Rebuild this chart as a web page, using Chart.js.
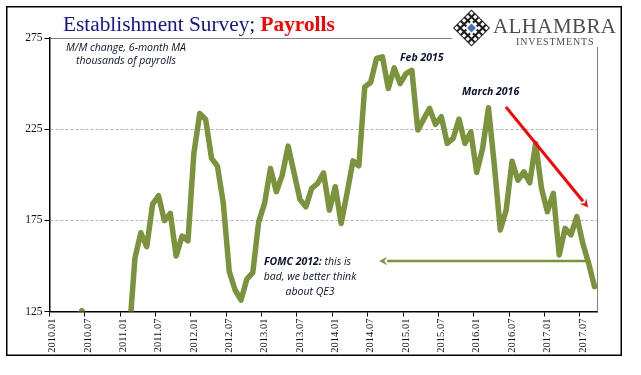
<!DOCTYPE html>
<html>
<head>
<meta charset="utf-8">
<title>Establishment Survey; Payrolls</title>
<script src="https://cdn.jsdelivr.net/npm/chart.js@4"></script>
<style>
  html, body { margin: 0; padding: 0; background: #fff; }
  canvas { display: block; }
</style>
</head>
<body>
<canvas id="payrollsChart" width="641" height="375"></canvas>
<script>
// --- data ---
const months = [
    '2010.01','2010.02','2010.03','2010.04','2010.05','2010.06','2010.07','2010.08','2010.09','2010.10','2010.11','2010.12',
    '2011.01','2011.02','2011.03','2011.04','2011.05','2011.06','2011.07','2011.08','2011.09','2011.10','2011.11','2011.12',
    '2012.01','2012.02','2012.03','2012.04','2012.05','2012.06','2012.07','2012.08','2012.09','2012.10','2012.11','2012.12',
    '2013.01','2013.02','2013.03','2013.04','2013.05','2013.06','2013.07','2013.08','2013.09','2013.10','2013.11','2013.12',
    '2014.01','2014.02','2014.03','2014.04','2014.05','2014.06','2014.07','2014.08','2014.09','2014.10','2014.11','2014.12',
    '2015.01','2015.02','2015.03','2015.04','2015.05','2015.06','2015.07','2015.08','2015.09','2015.10','2015.11','2015.12',
    '2016.01','2016.02','2016.03','2016.04','2016.05','2016.06','2016.07','2016.08','2016.09','2016.10','2016.11','2016.12',
    '2017.01','2017.02','2017.03','2017.04','2017.05','2017.06','2017.07','2017.08','2017.09'
];
// 2010 to early 2011 runs under the axis minimum, only the June 2010 bump shows
const payrolls = [
    100, 108, 112, 116, 120, 125.5, 118, 110, 105, 100, 95, 95,
    100, 111, 154.3, 168.2, 160.5, 183.9, 188.5, 174.8, 178.8, 155.4, 166.4, 163.8,
    211.7, 233.6, 230.3, 209, 204.7, 184.3, 147, 136.8, 131.3, 142.8, 146.3, 174.2,
    184.3, 203.5, 190.7, 199.8, 215.7, 201, 186.5, 182.4, 192.5, 195.2, 201, 180.6,
    193.4, 173.3, 190, 207.6, 204.9, 248.2, 250.6, 263.8, 264.7, 247.3, 258.6, 250,
    255.5, 257.3, 224.5, 230.5, 236.4, 227.6, 231.8, 217.2, 219.9, 230.5, 217.2, 223.5,
    201.3, 214.4, 236.7, 205, 169.7, 180.6, 207.4, 197, 201.6, 195.6, 217.2, 192.5,
    179.7, 189.8, 156, 170.6, 167, 177, 162.4, 151.4, 138.6
];
const yTicks = [125, 175, 225, 275];

const lineColor = '#7a933c';
const noteColor = '#0a1230';

// --- layout of the picture ---
const plotLeft = 49.5, plotTop = 38, plotRight = 597.5, plotBottom = 311.5;

function noteFont(weight) {
    return 'italic ' + weight + ' 10.5px "Open Sans"';
}

function drawText(ctx, text, x, y, font, color, align) {
    ctx.font = font;
    ctx.fillStyle = color;
    ctx.textAlign = align || 'left';
    ctx.textBaseline = 'alphabetic';
    ctx.fillText(text, x, y);
}

// arrow given in scale units (month index, thousands)
function drawArrow(chart, from, to, color, width) {
    const ctx = chart.ctx, xs = chart.scales.x, ys = chart.scales.y;
    const x1 = xs.getPixelForValue(from[0]), y1 = ys.getPixelForValue(from[1]);
    const x2 = xs.getPixelForValue(to[0]), y2 = ys.getPixelForValue(to[1]);
    const a = Math.atan2(y2 - y1, x2 - x1);
    const len = 8, wing = 4.2;
    const bx = x2 - len * Math.cos(a), by = y2 - len * Math.sin(a);
    ctx.save();
    ctx.strokeStyle = color;
    ctx.fillStyle = color;
    ctx.lineWidth = width;
    ctx.beginPath();
    ctx.moveTo(x1, y1);
    ctx.lineTo(bx, by);
    ctx.stroke();
    ctx.beginPath();
    ctx.moveTo(x2, y2);
    ctx.lineTo(bx - wing * Math.sin(a), by + wing * Math.cos(a));
    ctx.lineTo(x2 - 0.65 * len * Math.cos(a), y2 - 0.65 * len * Math.sin(a));
    ctx.lineTo(bx + wing * Math.sin(a), by - wing * Math.cos(a));
    ctx.closePath();
    ctx.fill();
    ctx.restore();
}

function drawLogo(ctx) {
    const cx = 471.5, cy = 28, r = 18.5;
    ctx.save();
    // hides the end of the title rule and the top of the right rule
    ctx.fillStyle = '#fff';
    ctx.fillRect(452, 8, 168, 39);

    ctx.translate(cx, cy);
    ctx.rotate(Math.PI / 4);
    const side = r * Math.SQRT2;
    ctx.fillStyle = '#1c1c1c';
    ctx.fillRect(-side / 2, -side / 2, side, side);
    // lattice holes
    ctx.fillStyle = '#fff';
    const n = 5, cell = side / n;
    for (let i = 0; i < n; i++) {
        for (let j = 0; j < n; j++) {
            const px = -side / 2 + (i + 0.5) * cell;
            const py = -side / 2 + (j + 0.5) * cell;
            ctx.fillRect(px - 1.6, py - 1.6, 3.2, 3.2);
        }
    }
    ctx.fillStyle = '#fff';
    ctx.fillRect(-cell * 0.9, -cell * 0.9, cell * 1.8, cell * 1.8);
    ctx.fillStyle = '#4472b8';
    ctx.fillRect(-cell * 0.6, -cell * 0.6, cell * 1.2, cell * 1.2);
    ctx.restore();

    ctx.save();
    ctx.letterSpacing = '0.4px';
    drawText(ctx, 'ALHAMBRA', 493, 33, '21px "Liberation Serif"', '#4d4d4d');
    ctx.letterSpacing = '0.8px';
    drawText(ctx, 'INVESTMENTS', 516, 44.5, '10px "Liberation Serif"', '#4d4d4d');
    ctx.restore();
}

// --- frame, rules, title, notes and arrows round the chart ---
const decorations = {
    id: 'decorations',
    afterDraw(chart) {
        const ctx = chart.ctx;
        ctx.save();

        // right hand rule of the plot
        ctx.strokeStyle = '#808080';
        ctx.lineWidth = 1;
        ctx.beginPath();
        ctx.moveTo(plotRight, plotTop);
        ctx.lineTo(plotRight, plotBottom);
        ctx.stroke();

        drawLogo(ctx);

        // outer frame
        ctx.strokeStyle = '#000';
        ctx.lineWidth = 1.5;
        ctx.strokeRect(6.75, 6.75, 614.5, 348.5);

        // title in two colours
        const serif = '"Liberation Serif"';
        const first = 'Establishment Survey; ';
        drawText(ctx, first, 63, 31, '21.3px ' + serif, '#14148c');
        const w = ctx.measureText(first).width;
        drawText(ctx, 'Payrolls', 63 + w, 31, 'bold 21.3px ' + serif, '#ff0000');

        // notes
        drawText(ctx, 'M/M change, 6-month MA', 126, 51, noteFont(400), noteColor, 'center');
        drawText(ctx, 'thousands of payrolls', 126, 64, noteFont(400), noteColor, 'center');
        drawText(ctx, 'Feb 2015', 400, 61, noteFont(700), noteColor);
        drawText(ctx, 'March 2016', 462, 95, noteFont(700), noteColor);

        const bold = 'FOMC 2012:';
        drawText(ctx, bold, 264, 265, noteFont(700), noteColor);
        const bw = ctx.measureText(bold).width;
        drawText(ctx, ' this is', 264 + bw, 265, noteFont(400), noteColor);
        drawText(ctx, 'bad, we better think', 310, 280, noteFont(400), noteColor, 'center');
        drawText(ctx, 'about QE3', 310, 295, noteFont(400), noteColor, 'center');

        // arrows
        drawArrow(chart, [76.95, 237.2], [90.9, 182.1], '#ff0000', 3);
        drawArrow(chart, [90.76, 152.7], [55.44, 152.7], lineColor, 2.5);

        ctx.restore();
    }
};

// --- the chart ---
function createPayrollsChart() {
    const ctx = document.getElementById('payrollsChart');

    new Chart(ctx, {
        type: 'line',
        data: {
            labels: months,
            datasets: [{
                label: 'Payrolls',
                data: payrolls,
                borderColor: lineColor,
                borderWidth: 5.5,
                borderJoinStyle: 'round',
                borderCapStyle: 'round',
                pointRadius: 0,
                tension: 0,
                clip: 0
            }]
        },
        options: {
            responsive: false,
            animation: false,
            layout: {
                padding: { left: 0, top: plotTop, right: 641 - plotRight, bottom: 0 }
            },
            plugins: {
                legend: { display: false },
                tooltip: { enabled: false }
            },
            scales: {
                x: {
                    type: 'category',
                    offset: true,
                    afterFit(scale) { scale.height = 375 - plotBottom; },
                    grid: {
                        offset: true,
                        drawOnChartArea: false,
                        tickLength: 5,
                        tickWidth: 1,
                        tickColor: (c) => (c.index % 6 === 0 ? '#000' : 'rgba(0,0,0,0)')
                    },
                    border: { color: '#000', width: 1.5 },
                    ticks: {
                        autoSkip: false,
                        minRotation: 90,
                        maxRotation: 90,
                        padding: 2,
                        color: '#111',
                        font: { family: '"Liberation Serif"', size: 10.5 },
                        callback(value, index) {
                            return index % 6 === 0 ? months[index] : '';
                        }
                    }
                },
                y: {
                    min: 125,
                    max: 275,
                    afterFit(scale) { scale.width = plotLeft; },
                    afterBuildTicks(scale) {
                        scale.ticks = yTicks.map((v) => ({ value: v }));
                    },
                    grid: {
                        tickLength: 5,
                        tickColor: '#000',
                        color: (c) => (c.tick && c.tick.value === 275 ? '#808080' : (c.tick && c.tick.value === 125 ? 'rgba(0,0,0,0)' : '#b4b4b4'))
                    },
                    border: {
                        color: '#000',
                        width: 1.5,
                        dash: (c) => (c.tick && c.tick.value === 275 ? [] : [3, 2])
                    },
                    ticks: {
                        padding: 2,
                        color: '#111',
                        font: { family: '"Liberation Serif"', size: 11.5 }
                    }
                }
            }
        }
        ,
        plugins: [decorations]
    });
}

createPayrollsChart();
</script>
</body>
</html>
